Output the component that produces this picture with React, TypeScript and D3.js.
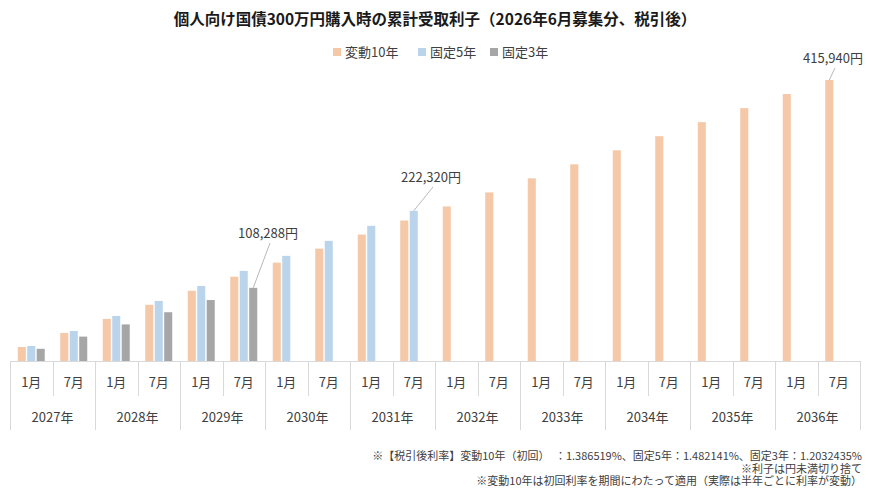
import React from 'react';
import * as d3 from 'd3';

// cumulative after-tax interest (yen), one value per half-year payment
const periods = [
	'2027-1', '2027-7', '2028-1', '2028-7', '2029-1', '2029-7', '2030-1', '2030-7',
	'2031-1', '2031-7', '2032-1', '2032-7', '2033-1', '2033-7', '2034-1', '2034-7',
	'2035-1', '2035-7', '2036-1', '2036-7',
];
const monthLabels = ['1月', '7月'];
const years = ['2027年', '2028年', '2029年', '2030年', '2031年', '2032年', '2033年', '2034年', '2035年', '2036年'];

const floating10 = [
	20797, 41594, 62391, 83188, 103985, 124782, 145579, 166376, 187173, 207970,
	228767, 249564, 270361, 291158, 311955, 332752, 353549, 374346, 395143, 415940,
];
const fixed5 = [22232, 44464, 66696, 88928, 111160, 133392, 155624, 177856, 200088, 222320];
const fixed3 = [18048, 36096, 54144, 72192, 90240, 108288];

const seriesNames = ['変動10年', '固定5年', '固定3年'];
const seriesValues = [floating10, fixed5, fixed3];
const colors = ['#F5C8A7', '#BAD5EB', '#A6A6A6'];

const footnotes = [
	'※【税引後利率】変動10年（初回）　：1.386519%、固定5年：1.482141%、固定3年：1.2032435%',
	'※利子は円未満切り捨て',
	'※変動10年は初回利率を期間にわたって適用（実際は半年ごとに利率が変動）',
];

const W = 870;
const H = 489;
const font = '"Noto Sans CJK JP", "Noto Sans", sans-serif';
const axisTop = 361;

const App: React.FC = () => {
	const x = d3.scaleBand<string>().domain(periods).range([10, 860]).padding(0);
	const y = d3.scaleLinear().domain([0, 450000]).range([axisTop, 57]);
	const inner = d3
		.scaleBand<string>()
		.domain(seriesNames)
		.range([-13.5, 13.5])
		.paddingInner(0.15);

	const barX = (i: number, s: number) =>
		(x(periods[i]) ?? 0) + x.bandwidth() / 2 + (inner(seriesNames[s]) ?? 0);

	// value callouts: series index, period index, label anchor
	const callouts = [
		{ s: 2, i: 5, tx: 268, ty: 238 },
		{ s: 1, i: 9, tx: 431, ty: 182 },
		{ s: 0, i: 19, tx: 833, ty: 63 },
	];

	const yearW = x.bandwidth() * 2;

	return (
		<div style={{ position: 'fixed', left: 0, top: 0 }}>
			<svg width={W} height={H} style={{ display: 'block', background: '#fff' }} fontFamily={font}>
				<text x={435} y={25} textAnchor="middle" fontSize={15.5} fontWeight="bold" fill="#1a1a1a">
					個人向け国債300万円購入時の累計受取利子（2026年6月募集分、税引後）
				</text>

				{/* legend */}
				<g fontSize={13} fill="#404040">
					{seriesNames.map((name, k) => {
						const lx = [333, 418, 490][k];
						return (
							<g key={name} transform={`translate(${lx},0)`}>
								<rect x={0} y={48} width={8} height={8} fill={colors[k]} />
								<text x={12} y={57}>{name}</text>
							</g>
						);
					})}
				</g>

				{/* bars */}
				{seriesValues.map((vals, s) => (
					<g key={seriesNames[s]} fill={colors[s]}>
						{vals.map((v, i) => (
							<rect
								key={i}
								x={barX(i, s)}
								y={y(v)}
								width={inner.bandwidth()}
								height={axisTop - y(v)}
							/>
						))}
					</g>
				))}

				{/* category axis drawn as a two-row table */}
				<g stroke="#D9D9D9" strokeWidth={1}>
					<line x1={10} x2={860} y1={axisTop + 0.5} y2={axisTop + 0.5} />
					{periods.map((p, i) => {
						const px = Math.round(x(p) ?? 0) + 0.5;
						const full = i % 2 === 0;
						return <line key={p} x1={px} x2={px} y1={axisTop} y2={full ? 430 : 396} />;
					})}
					<line x1={860.5} x2={860.5} y1={axisTop} y2={430} />
				</g>
				<g fontSize={13} fill="#404040" textAnchor="middle">
					{periods.map((p, i) => (
						<text key={p} x={(x(p) ?? 0) + x.bandwidth() / 2} y={387}>
							{monthLabels[i % 2]}
						</text>
					))}
					{years.map((yr, k) => (
						<text key={yr} x={10 + yearW * k + yearW / 2} y={422}>
							{yr}
						</text>
					))}
				</g>

				{/* value callouts */}
				{callouts.map((c) => {
					const v = seriesValues[c.s][c.i];
					const bx = barX(c.i, c.s) + inner.bandwidth() / 2;
					const by = y(v);
					return (
						<g key={c.s}>
							<line x1={c.tx + 2} y1={c.ty + 5} x2={bx} y2={by} stroke="#A6A6A6" strokeWidth={0.8} />
							<text x={c.tx} y={c.ty} textAnchor="middle" fontSize={13} fill="#404040">
								{d3.format(',')(v)}円
							</text>
						</g>
					);
				})}

				{/* notes */}
				<g fontSize={11} fill="#404040" textAnchor="end">
					{footnotes.map((t, k) => (
						<text key={k} x={862} y={460 + k * 12.5}>
							{t}
						</text>
					))}
				</g>
			</svg>
		</div>
	);
};

export default App;
